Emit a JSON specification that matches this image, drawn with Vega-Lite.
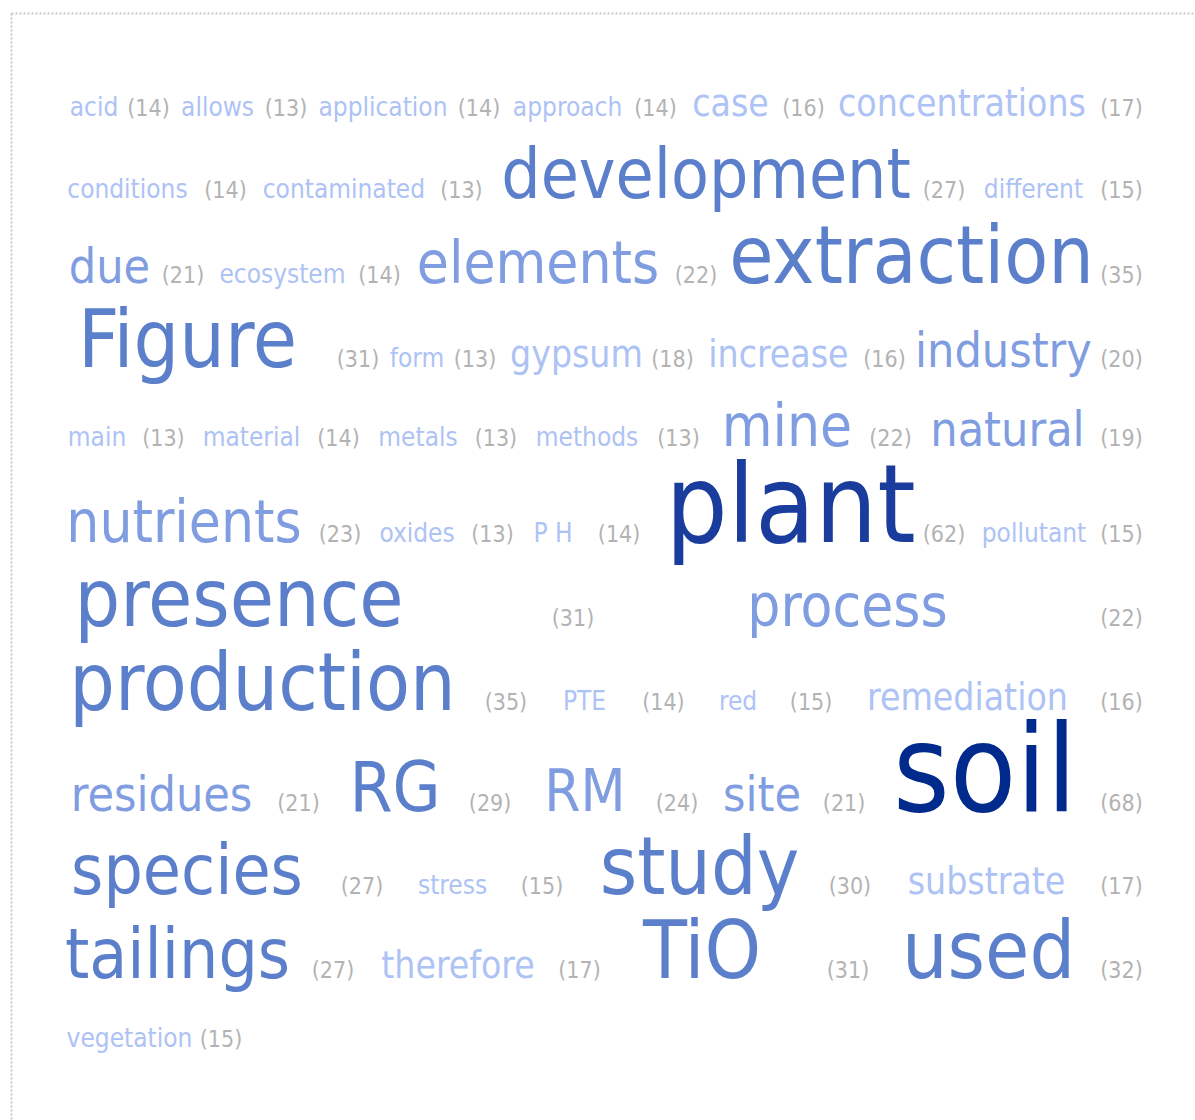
{
  "$schema": "https://vega.github.io/schema/vega-lite/v6.json",
  "width": 1184,
  "height": 1107,
  "autosize": "none",
  "padding": {"left": 11, "top": 13, "right": 0, "bottom": 0},
  "background": "white",
  "config": {
    "view": {"stroke": null},
    "axis": {
      "labels": false,
      "ticks": false,
      "grid": false,
      "title": null,
      "domainColor": "#c8c8c8",
      "domainDash": [2, 2],
      "domainWidth": 2
    }
  },
  "data": {
    "values": [
      {"line": 1, "word": "acid", "count": 14, "wx": 24.2, "cx": 74.9},
      {"line": 1, "word": "allows", "count": 13, "wx": 139.1, "cx": 202.8},
      {"line": 1, "word": "application", "count": 14, "wx": 293.0, "cx": 382.3},
      {"line": 1, "word": "approach", "count": 14, "wx": 464.7, "cx": 546.5},
      {"line": 1, "word": "case", "count": 16, "wx": 616.3, "cx": 684.2},
      {"line": 1, "word": "concentrations", "count": 17, "wx": 831.6, "cx": 980.0},
      {"line": 2, "word": "conditions", "count": 14, "wx": 55.3, "cx": 146.5},
      {"line": 2, "word": "contaminated", "count": 13, "wx": 256.7, "cx": 366.0},
      {"line": 2, "word": "development", "count": 27, "wx": 593.5, "cx": 814.9},
      {"line": 2, "word": "different", "count": 15, "wx": 898.1, "cx": 980.0},
      {"line": 3, "word": "due", "count": 21, "wx": 38.6, "cx": 107.0},
      {"line": 3, "word": "ecosystem", "count": 14, "wx": 199.5, "cx": 289.8},
      {"line": 3, "word": "elements", "count": 22, "wx": 437.2, "cx": 584.2},
      {"line": 3, "word": "extraction", "count": 35, "wx": 784.7, "cx": 980.0},
      {"line": 4, "word": "Figure", "count": 31, "wx": 111.2, "cx": 269.8},
      {"line": 4, "word": "form", "count": 13, "wx": 324.7, "cx": 378.6},
      {"line": 4, "word": "gypsum", "count": 18, "wx": 473.0, "cx": 562.3},
      {"line": 4, "word": "increase", "count": 16, "wx": 660.9, "cx": 759.5},
      {"line": 4, "word": "industry", "count": 20, "wx": 870.2, "cx": 980.0},
      {"line": 5, "word": "main", "count": 13, "wx": 27.0, "cx": 88.8},
      {"line": 5, "word": "material", "count": 14, "wx": 170.7, "cx": 251.6},
      {"line": 5, "word": "metals", "count": 13, "wx": 325.6, "cx": 398.1},
      {"line": 5, "word": "methods", "count": 13, "wx": 482.8, "cx": 567.9},
      {"line": 5, "word": "mine", "count": 22, "wx": 668.8, "cx": 765.1},
      {"line": 5, "word": "natural", "count": 19, "wx": 873.9, "cx": 980.0},
      {"line": 6, "word": "nutrients", "count": 23, "wx": 107.9, "cx": 253.0},
      {"line": 6, "word": "oxides", "count": 13, "wx": 324.7, "cx": 394.9},
      {"line": 6, "word": "P H", "count": 14, "wx": 451.2, "cx": 512.6},
      {"line": 6, "word": "plant", "count": 62, "wx": 672.1, "cx": 814.9},
      {"line": 6, "word": "pollutant", "count": 15, "wx": 898.6, "cx": 980.0},
      {"line": 7, "word": "presence", "count": 31, "wx": 159.1, "cx": 469.8},
      {"line": 7, "word": "process", "count": 22, "wx": 725.1, "cx": 980.0},
      {"line": 8, "word": "production", "count": 35, "wx": 180.9, "cx": 407.4},
      {"line": 8, "word": "PTE", "count": 14, "wx": 480.5, "cx": 553.9},
      {"line": 8, "word": "red", "count": 15, "wx": 623.3, "cx": 691.2},
      {"line": 8, "word": "remediation", "count": 16, "wx": 836.7, "cx": 980.0},
      {"line": 9, "word": "residues", "count": 21, "wx": 87.0, "cx": 214.4},
      {"line": 9, "word": "RG", "count": 29, "wx": 304.2, "cx": 392.6},
      {"line": 9, "word": "RM", "count": 24, "wx": 480.9, "cx": 566.5},
      {"line": 9, "word": "site", "count": 21, "wx": 645.6, "cx": 721.9},
      {"line": 9, "word": "soil", "count": 68, "wx": 853.0, "cx": 980.0},
      {"line": 10, "word": "species", "count": 27, "wx": 110.7, "cx": 273.5},
      {"line": 10, "word": "stress", "count": 15, "wx": 357.7, "cx": 440.9},
      {"line": 10, "word": "study", "count": 30, "wx": 587.4, "cx": 727.4},
      {"line": 10, "word": "substrate", "count": 17, "wx": 854.4, "cx": 980.0},
      {"line": 11, "word": "tailings", "count": 27, "wx": 101.9, "cx": 246.5},
      {"line": 11, "word": "therefore", "count": 17, "wx": 362.8, "cx": 475.8},
      {"line": 11, "word": "TiO", "count": 31, "wx": 589.8, "cx": 725.6},
      {"line": 11, "word": "used", "count": 32, "wx": 856.3, "cx": 980.0},
      {"line": 12, "word": "vegetation", "count": 15, "wx": 57.2, "cx": 142.3}
    ]
  },
  "encoding": {
    "y": {
      "field": "line",
      "type": "quantitative",
      "scale": {
        "domain": [0, 1, 2, 3, 4, 5, 6, 7, 8, 9, 10, 11, 12, 13],
        "range": [0, 103, 185, 270, 354, 433, 529, 613, 697, 798, 881, 965, 1034, 1107],
        "nice": false,
        "zero": false
      },
      "axis": {"orient": "left"}
    }
  },
  "layer": [
    {
      "mark": {
        "type": "text",
        "font": "DejaVu Sans Condensed",
        "align": "center",
        "baseline": "alphabetic"
      },
      "encoding": {
        "x": {
          "field": "wx",
          "type": "quantitative",
          "scale": {"domain": [-53.02, 1048.37], "nice": false, "zero": false},
          "axis": {"orient": "top"}
        },
        "text": {"field": "word"},
        "size": {
          "field": "count",
          "type": "quantitative",
          "scale": {
            "type": "threshold",
            "domain": [16, 19, 22, 25, 30, 50, 65],
            "range": [26, 37, 48, 58, 69, 80, 109, 121]
          },
          "legend": null
        },
        "color": {
          "field": "count",
          "type": "quantitative",
          "scale": {
            "type": "threshold",
            "domain": [19, 25, 50, 65],
            "range": ["#adc2f5", "#7f9de0", "#5b7fcb", "#1a3c9c", "#002a8c"]
          },
          "legend": null
        }
      }
    },
    {
      "transform": [{"calculate": "'(' + datum.count + ')'", "as": "label"}],
      "mark": {
        "type": "text",
        "font": "DejaVu Sans Condensed",
        "fontSize": 23,
        "color": "#b3b3b3",
        "align": "center",
        "baseline": "alphabetic"
      },
      "encoding": {
        "x": {
          "field": "cx",
          "type": "quantitative",
          "scale": {"domain": [-53.02, 1048.37], "nice": false, "zero": false},
          "axis": {"orient": "top"}
        },
        "text": {"field": "label"}
      }
    }
  ]
}
